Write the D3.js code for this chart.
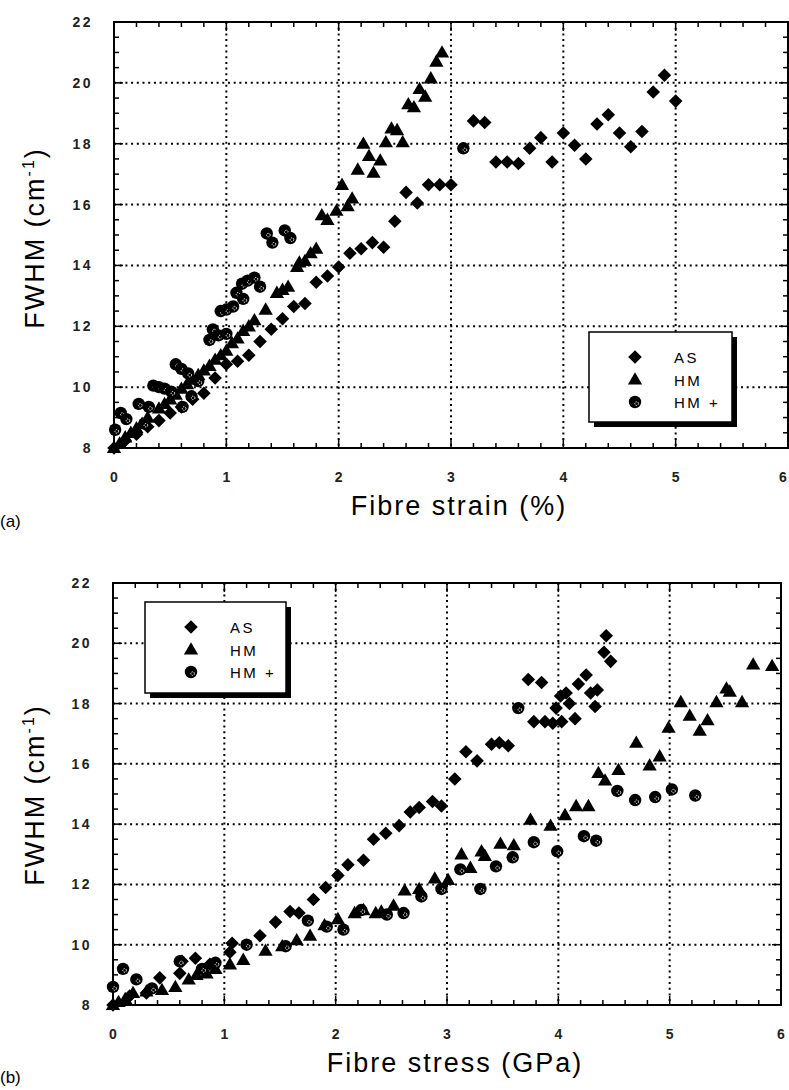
<!DOCTYPE html>
<html>
<head>
<meta charset="utf-8">
<script src="https://cdn.jsdelivr.net/npm/d3@7"></script>
<style>
  body { margin: 0; background: #fff; }
  svg { display: block; }
</style>
</head>
<body>
<div id="chart"></div>
<script>
// axis ticks shared by both panels
const xTicks = [0, 1, 2, 3, 4, 5, 6];
const yTicks = [8, 10, 12, 14, 16, 18, 20, 22];
const seriesNames = ["AS", "HM", "HM +"];

// (a) FWHM vs fibre strain (%)
const strainAS = [
  [0.00, 8.0], [0.10, 8.25], [0.20, 8.45], [0.30, 8.7], [0.40, 8.9], [0.50, 9.15],
  [0.60, 9.35], [0.70, 9.6], [0.80, 9.8], [0.90, 10.3], [1.00, 10.75], [1.10, 10.85],
  [1.20, 11.05], [1.30, 11.5], [1.40, 11.9], [1.50, 12.25], [1.60, 12.65], [1.70, 12.75],
  [1.80, 13.45], [1.90, 13.65], [2.00, 13.95], [2.10, 14.4], [2.20, 14.55], [2.30, 14.75],
  [2.40, 14.6], [2.50, 15.45], [2.60, 16.4], [2.70, 16.05], [2.80, 16.65], [2.90, 16.65],
  [3.00, 16.65], [3.20, 18.75], [3.30, 18.7], [3.40, 17.4], [3.50, 17.4], [3.60, 17.35],
  [3.70, 17.85], [3.80, 18.2], [3.90, 17.4], [4.00, 18.35], [4.10, 17.95], [4.20, 17.5],
  [4.30, 18.65], [4.40, 18.95], [4.50, 18.35], [4.60, 17.9], [4.70, 18.4], [4.80, 19.7],
  [4.90, 20.25], [5.00, 19.4]
];
const strainHM = [
  [0.00, 8.0], [0.05, 8.15], [0.10, 8.35], [0.15, 8.5], [0.20, 8.65], [0.25, 8.8],
  [0.30, 9.0], [0.40, 9.3], [0.45, 9.45], [0.50, 9.6], [0.55, 9.75], [0.60, 9.95],
  [0.65, 10.1], [0.70, 10.25], [0.75, 10.4], [0.80, 10.55], [0.85, 10.7], [0.90, 10.9],
  [0.95, 11.05], [1.00, 11.2], [1.05, 11.45], [1.10, 11.6], [1.15, 11.85], [1.20, 12.0],
  [1.25, 12.2], [1.35, 12.55], [1.45, 13.1], [1.50, 13.2], [1.55, 13.3], [1.63, 13.95],
  [1.65, 14.1], [1.70, 14.15], [1.75, 14.4], [1.80, 14.55], [1.85, 15.65], [1.90, 15.5],
  [1.98, 15.8], [2.03, 16.65], [2.08, 15.95], [2.12, 16.2], [2.17, 17.15], [2.22, 18.0],
  [2.27, 17.6], [2.31, 17.05], [2.37, 17.45], [2.42, 18.05], [2.47, 18.5], [2.52, 18.45],
  [2.57, 18.05], [2.62, 19.3], [2.67, 19.2], [2.72, 19.8], [2.77, 19.55], [2.82, 20.15],
  [2.87, 20.7], [2.92, 21.0]
];
const strainHMplus = [
  [0.01, 8.6], [0.06, 9.15], [0.11, 8.95], [0.22, 9.45], [0.27, 8.8], [0.31, 9.35],
  [0.35, 10.05], [0.40, 10.0], [0.45, 9.95], [0.51, 9.85], [0.55, 10.75], [0.60, 10.6],
  [0.61, 9.35], [0.66, 10.45], [0.69, 9.7], [0.75, 10.2], [0.85, 11.55], [0.88, 11.9],
  [0.93, 11.7], [0.95, 12.5], [1.00, 12.55], [1.00, 11.75], [1.06, 12.65], [1.09, 13.1],
  [1.14, 13.4], [1.15, 12.9], [1.19, 13.5], [1.25, 13.6], [1.30, 13.3], [1.36, 15.05],
  [1.41, 14.75], [1.52, 15.15], [1.57, 14.9], [3.11, 17.85]
];

// (b) FWHM vs fibre stress (GPa)
const stressAS = [
  [0.00, 8.0], [0.15, 8.3], [0.30, 8.4], [0.42, 8.9], [0.60, 9.05], [0.62, 9.45],
  [0.74, 9.55], [0.87, 9.35], [1.05, 9.75], [1.07, 10.05], [1.32, 10.3], [1.46, 10.75],
  [1.59, 11.1], [1.67, 11.05], [1.80, 11.5], [1.91, 11.9], [2.02, 12.3], [2.11, 12.65],
  [2.25, 12.8], [2.34, 13.5], [2.45, 13.7], [2.57, 13.95], [2.67, 14.4], [2.75, 14.55],
  [2.87, 14.75], [2.95, 14.6], [3.07, 15.5], [3.17, 16.4], [3.27, 16.1], [3.40, 16.65],
  [3.47, 16.7], [3.55, 16.6], [3.73, 18.8], [3.78, 17.4], [3.85, 18.7], [3.88, 17.4],
  [3.95, 17.35], [3.98, 17.85], [4.02, 18.25], [4.03, 17.4], [4.07, 18.35], [4.10, 18.0],
  [4.15, 17.5], [4.18, 18.65], [4.25, 18.95], [4.29, 18.35], [4.33, 17.9], [4.35, 18.45],
  [4.41, 19.7], [4.43, 20.25], [4.47, 19.4]
];
const stressHM = [
  [0.00, 8.0], [0.05, 8.1], [0.11, 8.2], [0.18, 8.4], [0.30, 8.45], [0.44, 8.5],
  [0.56, 8.6], [0.68, 8.85], [0.75, 9.0], [0.84, 9.05], [0.92, 9.2], [1.05, 9.35],
  [1.17, 9.5], [1.37, 9.8], [1.52, 9.95], [1.65, 10.15], [1.77, 10.3], [1.90, 10.65],
  [2.02, 10.85], [2.17, 11.05], [2.25, 11.15], [2.36, 11.05], [2.41, 11.1], [2.52, 11.3],
  [2.62, 11.8], [2.75, 11.85], [2.89, 12.2], [3.01, 12.15], [3.13, 13.0], [3.21, 12.55],
  [3.31, 13.1], [3.34, 12.95], [3.48, 13.35], [3.60, 13.3], [3.75, 14.15], [3.93, 13.95],
  [4.06, 14.3], [4.16, 14.6], [4.27, 14.6], [4.36, 15.7], [4.42, 15.45], [4.54, 15.8],
  [4.70, 16.7], [4.82, 15.95], [4.91, 16.25], [4.99, 17.2], [5.10, 18.05], [5.18, 17.6],
  [5.27, 17.1], [5.34, 17.45], [5.42, 18.05], [5.51, 18.5], [5.54, 18.4], [5.65, 18.05],
  [5.75, 19.3], [5.92, 19.25]
];
const stressHMplus = [
  [0.00, 8.6], [0.09, 9.2], [0.21, 8.85], [0.35, 8.55], [0.60, 9.45], [0.80, 9.2],
  [0.92, 9.4], [1.20, 10.0], [1.55, 9.95], [1.75, 10.8], [1.92, 10.6], [2.07, 10.5],
  [2.23, 11.15], [2.46, 11.0], [2.61, 11.05], [2.77, 11.6], [2.95, 11.85], [3.12, 12.5],
  [3.30, 11.85], [3.44, 12.6], [3.59, 12.9], [3.64, 17.85], [3.78, 13.4], [3.99, 13.1],
  [4.23, 13.6], [4.34, 13.45], [4.53, 15.1], [4.69, 14.8], [4.87, 14.9], [5.02, 15.15],
  [5.23, 14.95]
];

const W = 789, H = 1090;
const font = "'Liberation Sans', Arial, sans-serif";

const svg = d3.select("#chart").append("svg")
  .attr("width", W)
  .attr("height", H);

// marker drawers
const diamondPath = d3.symbol().type(d3.symbolSquare).size(92)();
const trianglePath = d3.symbol().type(d3.symbolTriangle).size(88)();

function drawMarker(g, kind, cx, cy) {
  if (kind === 0) {
    g.append("path").attr("d", diamondPath)
      .attr("transform", `translate(${cx},${cy}) rotate(45)`)
      .attr("fill", "#000");
  } else if (kind === 1) {
    g.append("path").attr("d", trianglePath)
      .attr("transform", `translate(${cx},${cy + 1})`)
      .attr("fill", "#000");
  } else {
    g.append("circle").attr("cx", cx).attr("cy", cy).attr("r", 6.2).attr("fill", "#000");
    g.append("circle").attr("cx", cx + 1.6).attr("cy", cy + 1.6).attr("r", 1.8)
      .attr("fill", "none").attr("stroke", "#fff").attr("stroke-width", 1)
      .attr("stroke-dasharray", "1.2,1");
  }
}

function drawPanel(cfg) {
  const g = svg.append("g");
  const x = d3.scaleLinear().domain([0, 6]).range([cfg.left, cfg.right]);
  const y = d3.scaleLinear().domain([8, 22]).range([cfg.bottom, cfg.top]);

  // dotted grid
  g.append("g").selectAll("line")
    .data(xTicks.slice(1, -1)).enter().append("line")
    .attr("x1", d => x(d)).attr("x2", d => x(d))
    .attr("y1", cfg.top).attr("y2", cfg.bottom)
    .attr("stroke", "#000").attr("stroke-width", 2).attr("stroke-dasharray", "2,3.7");
  g.append("g").selectAll("line")
    .data(yTicks.slice(1, -1)).enter().append("line")
    .attr("y1", d => y(d)).attr("y2", d => y(d))
    .attr("x1", cfg.left).attr("x2", cfg.right)
    .attr("stroke", "#000").attr("stroke-width", 2).attr("stroke-dasharray", "2,3.7");

  // inward ticks on all four sides
  const ticks = g.append("g").attr("stroke", "#000").attr("stroke-width", 1.5);
  d3.range(0, 30.5).map(i => i * 0.2).forEach(v => {
    const major = Math.abs(v - Math.round(v)) < 1e-6;
    const len = major ? 9 : 5;
    ticks.append("line").attr("x1", x(v)).attr("x2", x(v))
      .attr("y1", cfg.bottom).attr("y2", cfg.bottom - len);
    ticks.append("line").attr("x1", x(v)).attr("x2", x(v))
      .attr("y1", cfg.top).attr("y2", cfg.top + len);
  });
  d3.range(0, 28.5).map(i => 8 + i * 0.5).forEach(v => {
    const major = Math.abs(v % 2) < 1e-6;
    const len = major ? 9 : 5;
    ticks.append("line").attr("y1", y(v)).attr("y2", y(v))
      .attr("x1", cfg.left).attr("x2", cfg.left + len);
    ticks.append("line").attr("y1", y(v)).attr("y2", y(v))
      .attr("x1", cfg.right).attr("x2", cfg.right - len);
  });

  // frame
  g.append("rect")
    .attr("x", cfg.left).attr("y", cfg.top)
    .attr("width", cfg.right - cfg.left).attr("height", cfg.bottom - cfg.top)
    .attr("fill", "none").attr("stroke", "#000").attr("stroke-width", 2);

  // tick labels
  g.append("g").selectAll("text")
    .data(yTicks).enter().append("text")
    .attr("x", cfg.left - 21).attr("y", d => y(d) + 5)
    .attr("text-anchor", "end")
    .attr("font-family", font).attr("font-size", 14).attr("font-weight", "bold")
    .attr("letter-spacing", 2.5).attr("fill", "#222")
    .text(d => d);
  g.append("g").selectAll("text")
    .data(xTicks).enter().append("text")
    .attr("x", d => Math.min(x(d), W - 6)).attr("y", cfg.bottom + 34)
    .attr("text-anchor", "middle")
    .attr("font-family", font).attr("font-size", 14).attr("font-weight", "bold")
    .attr("fill", "#222")
    .text(d => d);

  // axis titles
  g.append("text")
    .attr("x", (cfg.left + cfg.right) / 2 + 8).attr("y", cfg.bottom + 67)
    .attr("text-anchor", "middle")
    .attr("font-family", font).attr("font-size", 27).attr("letter-spacing", 2)
    .text(cfg.xTitle);
  const yt = g.append("text")
    .attr("transform", `translate(44,${cfg.bottom - 210}) rotate(-90)`)
    .attr("text-anchor", "middle")
    .attr("font-family", font).attr("font-size", 27).attr("letter-spacing", 2);
  yt.append("tspan").text("FWHM (cm");
  yt.append("tspan").attr("dy", -10).attr("font-size", 16).text("-1");
  yt.append("tspan").attr("dy", 10).text(")");

  // panel tag
  g.append("text")
    .attr("x", 0).attr("y", cfg.tagY)
    .attr("font-family", font).attr("font-size", 17)
    .text(cfg.tag);

  // points
  const pts = g.append("g");
  cfg.series.forEach((data, k) => {
    data.forEach(d => drawMarker(pts, k, x(d[0]), y(d[1])));
  });

  // legend with drop shadow
  const L = cfg.legend;
  const lg = g.append("g").attr("transform", `translate(${L.x},${L.y})`);
  lg.append("rect").attr("x", 5).attr("y", 5).attr("width", L.w).attr("height", L.h)
    .attr("fill", "#000");
  lg.append("rect").attr("x", 0).attr("y", 0).attr("width", L.w).attr("height", L.h)
    .attr("fill", "#fff").attr("stroke", "#000").attr("stroke-width", 1.5);
  seriesNames.forEach((name, k) => {
    const ry = 25 + k * 22.5;
    drawMarker(lg, k, 46, ry);
    lg.append("text")
      .attr("x", 85).attr("y", ry + 6)
      .attr("font-family", font).attr("font-size", 15).attr("letter-spacing", 2.5)
      .text(name);
  });
}

drawPanel({
  left: 114, right: 788, top: 22, bottom: 448,
  xTitle: "Fibre strain (%)", tag: "(a)", tagY: 527,
  legend: { x: 589, y: 332, w: 143, h: 90 },
  series: [strainAS, strainHM, strainHMplus]
});

drawPanel({
  left: 113, right: 781, top: 583, bottom: 1005,
  xTitle: "Fibre stress (GPa)", tag: "(b)", tagY: 1083,
  legend: { x: 145, y: 602, w: 141, h: 91 },
  series: [stressAS, stressHM, stressHMplus]
});
</script>
</body>
</html>
